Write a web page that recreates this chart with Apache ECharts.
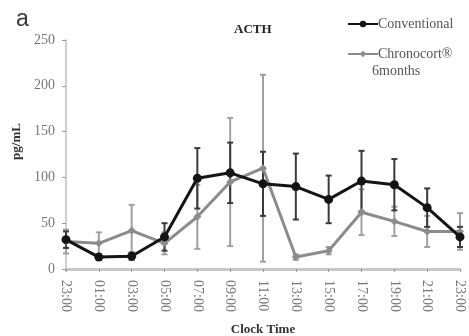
<!DOCTYPE html>
<html>
<head>
<meta charset="utf-8">
<script src="https://cdn.jsdelivr.net/npm/echarts@6/dist/echarts.min.js"></script>
<style>
  html, body { margin: 0; padding: 0; background: #fff; }
  #chart { width: 469px; height: 336px; }
</style>
</head>
<body>
<div id="chart"></div>
<script>
// clock times
var times = ['23:00', '01:00', '03:00', '05:00', '07:00', '09:00', '11:00', '13:00', '15:00', '17:00', '19:00', '21:00', '23:00'];
// Conventional mean / error
var convMean = [32, 13, 14, 35, 99, 105, 93, 90, 76, 96, 92, 67, 35];
var convErr = [9, 3, 4, 15, 33, 33, 35, 36, 26, 33, 28, 21, 11];
// Chronocort 6 months mean / error
var chronoMean = [30, 28, 42, 28, 57, 95, 110, 13, 20, 62, 52, 41, 41];
var chronoErr = [13, 12, 28, 12, 35, 70, 102, 3, 4, 25, 16, 17, 20];
var yTicks = [0, 50, 100, 150, 200, 250];

var serif = 'Liberation Serif';
var black = '#141414';
var grey = '#8c8c8c';

function errData(mean, err) {
    return mean.map(function (m, i) { return [i, m, err[i]]; });
}

function errRender(color) {
    return function (params, api) {
        var i = api.value(0), m = api.value(1), e = api.value(2);
        var top = api.coord([i, m + e]);
        var bot = api.coord([i, m - e]);
        var st = { stroke: color, lineWidth: 2 };
        return {
            type: 'group',
            children: [
                { type: 'line', shape: { x1: top[0], y1: top[1], x2: bot[0], y2: bot[1] }, style: st },
                { type: 'line', shape: { x1: top[0] - 3, y1: top[1], x2: top[0] + 3, y2: top[1] }, style: st },
                { type: 'line', shape: { x1: bot[0] - 3, y1: bot[1], x2: bot[0] + 3, y2: bot[1] }, style: st }
            ]
        };
    };
}

var chart = echarts.init(document.getElementById('chart'));
chart.setOption({
    backgroundColor: '#fff',
    animation: false,
    title: [
        { text: 'a', left: 11, top: 3, textStyle: { fontFamily: 'Liberation Sans', fontSize: 23, fontWeight: 'normal', color: '#3a3a3a' } },
        { text: 'ACTH', left: 229, top: 18, textStyle: { fontFamily: serif, fontSize: 13, fontWeight: 'bold', color: '#222' } }
    ],
    legend: {
        orient: 'vertical',
        left: 342,
        top: 12,
        itemWidth: 30,
        itemHeight: 8,
        itemGap: 16,
        data: ['Conventional', 'Chronocort®'],
        textStyle: { fontFamily: serif, fontSize: 14, color: '#555', padding: [0, 0, 0, -5] }
    },
    graphic: [
        { type: 'text', left: 372, top: 64, style: { text: '6months', font: '14px "Liberation Serif"', fill: '#555' } }
    ],
    grid: { left: 66, right: 9, top: 40, bottom: 67, outerBoundsMode: 'none' },
    xAxis: {
        type: 'category',
        data: times,
        boundaryGap: false,
        axisLine: { lineStyle: { color: '#c8c8c8', width: 3 } },
        axisTick: { show: true, length: 3, lineStyle: { color: '#999' } },
        axisLabel: { rotate: -90, fontFamily: serif, fontSize: 14, color: '#777', margin: 11 },
        name: 'Clock Time',
        nameLocation: 'middle',
        nameGap: 54,
        nameTextStyle: { fontFamily: serif, fontSize: 13, fontWeight: 'bold', color: '#333' }
    },
    yAxis: {
        type: 'value',
        min: yTicks[0],
        max: yTicks[yTicks.length - 1],
        interval: 50,
        splitLine: { show: false },
        axisLine: { show: true, lineStyle: { color: '#cfcfcf', width: 2 } },
        axisTick: { show: true, length: 4, lineStyle: { color: '#999' } },
        axisLabel: { fontFamily: serif, fontSize: 14, color: '#777', margin: 11 },
        name: 'pg/mL',
        nameLocation: 'middle',
        nameGap: 40,
        nameRotate: 90,
        nameTextStyle: { fontFamily: serif, fontSize: 13, fontWeight: 'bold', color: '#333', padding: [0, 0, 0, 26] }
    },
    series: [
        {
            type: 'custom',
            renderItem: errRender('#a0a0a0'),
            data: errData(chronoMean, chronoErr),
            z: 1,
            silent: true
        },
        {
            type: 'custom',
            renderItem: errRender('#3a3a3a'),
            data: errData(convMean, convErr),
            z: 2,
            silent: true
        },
        {
            name: 'Chronocort®',
            type: 'line',
            data: chronoMean,
            symbol: 'diamond',
            symbolSize: 8,
            lineStyle: { color: grey, width: 3 },
            itemStyle: { color: grey },
            z: 3
        },
        {
            name: 'Conventional',
            type: 'line',
            data: convMean,
            symbol: 'circle',
            symbolSize: 9,
            lineStyle: { color: black, width: 3 },
            itemStyle: { color: black },
            z: 4
        }
    ]
});
</script>
</body>
</html>
